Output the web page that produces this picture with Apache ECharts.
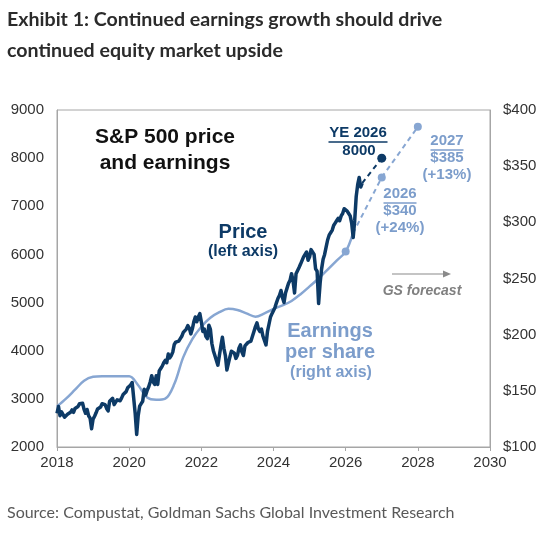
<!DOCTYPE html>
<html>
<head>
<meta charset="utf-8">
<script src="https://cdn.jsdelivr.net/npm/echarts@6/dist/echarts.min.js"></script>
<style>
  html, body { margin: 0; padding: 0; background: #fff; }
  #Root { width: 552px; height: 541px; }
</style>
</head>
<body>
<div id="Root"></div>
<script>
// S&P 500 price, semi-monthly from Jan 2018 (x = 2018 + i/24)
const priceStart = 2018
const priceStep = 1 / 24
const priceValues = [
    // 2018
    2700, 2840, 2650, 2730, 2750, 2620, 2660, 2680, 2710, 2720, 2770, 2720,
    2800, 2820, 2840, 2900, 2890, 2910, 2780, 2700, 2780, 2650, 2600, 2380,
    // 2019
    2580, 2640, 2710, 2790, 2810, 2830, 2900, 2940, 2880, 2800, 2750, 2950,
    2990, 3010, 2880, 2900, 2980, 2990, 2960, 3020, 3090, 3120, 3150, 3230,
    // 2020
    3260, 3290, 3340, 3370, 2700, 2260, 2650, 2850, 2900, 2950, 3200, 3080,
    3180, 3250, 3350, 3480, 3350, 3300, 3480, 3300, 3580, 3630, 3680, 3750,
    // 2021
    3800, 3750, 3930, 3850, 3900, 3970, 4130, 4180, 4150, 4200, 4250, 4300,
    4380, 4400, 4450, 4520, 4470, 4350, 4450, 4600, 4700, 4600, 4700, 4770,
    // 2022
    4600, 4400, 4450, 4300, 4250, 4530, 4450, 4150, 4000, 3900, 3900, 3700,
    3900, 4100, 4280, 4050, 3900, 3600, 3600, 3870, 3990, 4030, 3950, 3840,
    // 2023
    3900, 4050, 4120, 3970, 3900, 4100, 4130, 4170, 4130, 4200, 4300, 4400,
    4500, 4580, 4450, 4400, 4450, 4300, 4330, 4120, 4400, 4550, 4700, 4770,
    // 2024
    4800, 4900, 5000, 5090, 5150, 5250, 5100, 5000, 5200, 5300, 5400, 5460,
    5600, 5450, 5200, 5600, 5600, 5730, 5800, 5800, 5950, 5980, 6050, 5880,
    // 2025
    5950, 6100, 6100, 6000, 5700, 5650, 4980, 5400, 5700, 5900, 6000, 6150,
    6300, 6400, 6450, 6500, 6600, 6650, 6700, 6750, 6700, 6800, 6850, 6950,
    // 2026
    6950, 6900, 6850, 6800, 6650, 6350, 6700, 7200, 7450, 7600, 7400, 7480
]

// GS year-end 2026 target
const priceTargetYear = 2027
const priceTarget = 8000

// trailing EPS (right axis)
const epsYears = [
    2018, 2018.25, 2018.5, 2018.75, 2019, 2019.25, 2019.5, 2019.75,
    2020, 2020.25, 2020.5, 2020.75, 2021, 2021.25, 2021.5, 2021.75,
    2022, 2022.25, 2022.5, 2022.75, 2023, 2023.25, 2023.5, 2023.75,
    2024, 2024.25, 2024.5, 2024.75, 2025, 2025.25, 2025.5, 2025.75,
    2026, 2026.2
]
const epsValues = [
    136, 143, 151, 159, 162.5, 163, 163, 163,
    163, 155, 144, 142, 143, 156, 180, 196,
    207, 215, 220, 223, 222, 219, 216, 219,
    223, 226, 230, 236, 243, 250, 258, 266,
    274, 290
]
const epsForecastYears = [2027, 2028]
const epsForecast = [340, 385]

const NAVY = '#0d3a66'
const LIGHT = '#87a6d2'
const LIGHT_TXT = '#7c9dcb'
const AXIS_FONT = '"Liberation Sans", Arial, sans-serif'

let priceData = priceValues.map((v, i) => [priceStart + i * priceStep, v])
let lastPrice = priceData[priceData.length - 1]
let epsData = epsYears.map((y, i) => [y, epsValues[i]])
let lastEps = epsData[epsData.length - 1]
let epsFcData = [lastEps].concat(epsForecastYears.map((y, i) => [y, epsForecast[i]]))

let chart = echarts.init(document.getElementById('Root'))

// centred bold annotation
function ctxt(x, y, text, size, color, extra) {
    return {
        type: 'text', x: x, y: y,
        style: Object.assign({
            text: text, fill: color,
            font: 'bold ' + size + 'px ' + AXIS_FONT,
            align: 'center', verticalAlign: 'middle'
        }, extra || {})
    }
}

function uline(x, y, w, color) {
    return { type: 'line', shape: { x1: x - w / 2, y1: y, x2: x + w / 2, y2: y }, style: { stroke: color, lineWidth: 1.5 } }
}

let options = {
    animation: false,
    backgroundColor: '#fff',
    grid: {
        left: 57, right: 62, top: 110, bottom: 94,
        show: true, borderColor: '#a6a6a6', borderWidth: 1
    },
    xAxis: {
        type: 'value', min: 2018, max: 2030, interval: 2,
        axisLine: { lineStyle: { color: '#a6a6a6' } },
        axisTick: { show: true, length: 4, lineStyle: { color: '#a6a6a6' } },
        splitLine: { show: false },
        axisLabel: { color: '#333', fontSize: 15, fontFamily: AXIS_FONT, margin: 8, formatter: v => String(v) }
    },
    yAxis: [
        {
            type: 'value', min: 2000, max: 9000, interval: 1000,
            axisLine: { show: true, lineStyle: { color: '#a6a6a6' } },
            axisTick: { show: false },
            splitLine: { show: false },
            axisLabel: { color: '#333', fontSize: 15, fontFamily: AXIS_FONT, margin: 13, formatter: v => String(v) }
        },
        {
            type: 'value', min: 100, max: 400, interval: 50, position: 'right',
            axisLine: { show: true, lineStyle: { color: '#a6a6a6' } },
            axisTick: { show: false },
            splitLine: { show: false },
            axisLabel: { color: '#333', fontSize: 15, fontFamily: AXIS_FONT, margin: 13, formatter: v => '$' + v }
        }
    ],
    series: [
        {
            name: 'EPS', type: 'line', yAxisIndex: 1, data: epsData,
            smooth: 0.35, z: 2,
            lineStyle: { color: LIGHT, width: 2.5 },
            itemStyle: { color: LIGHT },
            symbol: 'circle', showAllSymbol: true,
            symbolSize: (v, p) => (p.dataIndex === epsData.length - 2 ? 8 : 0)
        },
        {
            name: 'EPS forecast', type: 'line', yAxisIndex: 1, data: epsFcData,
            z: 2,
            lineStyle: { color: LIGHT, width: 2, type: [5, 4] },
            itemStyle: { color: LIGHT },
            symbol: 'circle', showAllSymbol: true,
            symbolSize: (v, p) => (p.dataIndex === 0 ? 0 : 8)
        },
        {
            name: 'Price', type: 'line', yAxisIndex: 0, data: priceData,
            z: 3, symbol: 'none',
            lineStyle: { color: NAVY, width: 3.5, join: 'round' }
        },
        {
            name: 'Price target', type: 'line', yAxisIndex: 0,
            data: [lastPrice, [priceTargetYear, priceTarget]],
            z: 3,
            lineStyle: { color: NAVY, width: 2, type: [5, 4] },
            itemStyle: { color: NAVY },
            symbol: 'circle', showAllSymbol: true,
            symbolSize: (v, p) => (p.dataIndex === 0 ? 0 : 9)
        }
    ],
    graphic: [
        // header and source
        { type: 'text', x: 7, y: 20, style: { text: 'Exhibit 1: Continued earnings growth should drive', fill: '#2b2b2b', font: 'bold 19.6px Lato, sans-serif', verticalAlign: 'middle' } },
        { type: 'text', x: 7, y: 51, style: { text: 'continued equity market upside', fill: '#2b2b2b', font: 'bold 19.6px Lato, sans-serif', verticalAlign: 'middle' } },
        { type: 'text', x: 7, y: 513, style: { text: 'Source: Compustat, Goldman Sachs Global Investment Research', fill: '#595959', font: '16px Lato, sans-serif', verticalAlign: 'middle' } },

        ctxt(165, 137, 'S&P 500 price', 21, '#111'),
        ctxt(165, 163, 'and earnings', 21, '#111'),

        ctxt(243, 232, 'Price', 20, NAVY),
        ctxt(243, 252, '(left axis)', 16, NAVY),

        ctxt(358, 133, 'YE 2026', 15, NAVY),
        uline(358, 142, 59, NAVY),
        ctxt(359, 151, '8000', 15, NAVY),

        ctxt(447, 141, '2027', 15, LIGHT_TXT),
        uline(447, 150, 33, LIGHT_TXT),
        ctxt(447, 158, '$385', 15, LIGHT_TXT),
        ctxt(447, 175, '(+13%)', 15, LIGHT_TXT),

        ctxt(400, 194, '2026', 15, LIGHT_TXT),
        uline(400, 203, 33, LIGHT_TXT),
        ctxt(400, 211, '$340', 15, LIGHT_TXT),
        ctxt(400, 228, '(+24%)', 15, LIGHT_TXT),

        ctxt(330, 331, 'Earnings', 20, LIGHT_TXT),
        ctxt(330, 352, 'per share', 20, LIGHT_TXT),
        ctxt(331, 373, '(right axis)', 16, LIGHT_TXT),

        // forecast arrow
        { type: 'line', shape: { x1: 392, y1: 274, x2: 444, y2: 274 }, style: { stroke: '#8a8a8a', lineWidth: 1.2 } },
        { type: 'polygon', shape: { points: [[451, 274], [443, 270.5], [443, 277.5]] }, style: { fill: '#8a8a8a' } },
        ctxt(422, 291, 'GS forecast', 14, '#808080', { font: 'italic bold 14px ' + AXIS_FONT })
    ]
}

chart.setOption(options)
</script>
</body>
</html>
